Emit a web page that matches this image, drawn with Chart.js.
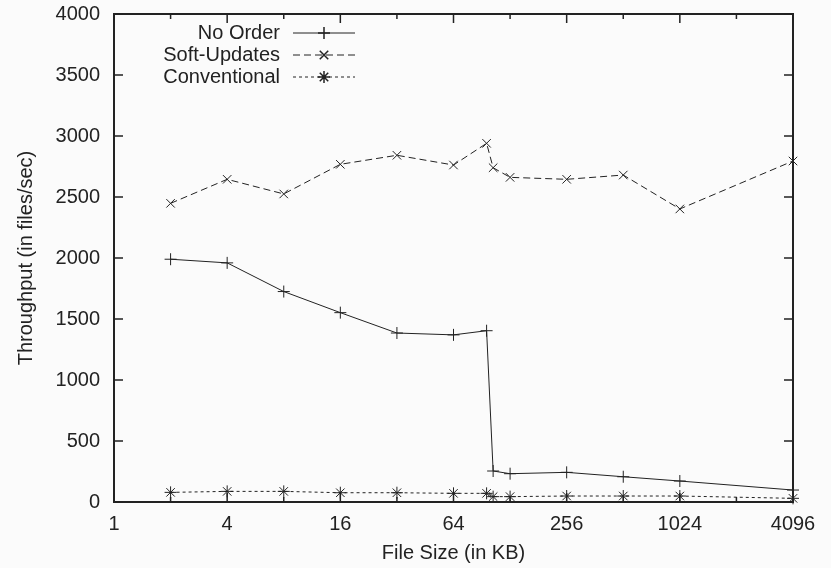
<!DOCTYPE html>
<html>
<head>
<meta charset="utf-8">
<script src="https://cdn.jsdelivr.net/npm/chart.js@4/dist/chart.umd.min.js"></script>
<style>
  html, body { margin: 0; padding: 0; background: #fbfbfb; }
  #wrap { width: 831px; height: 568px; }
</style>
</head>
<body>
<div id="wrap"><canvas id="myChart" width="831" height="568"></canvas></div>
<script>
// file sizes in KB
const fileSizes = [2, 4, 8, 16, 32, 64, 96, 104, 128, 256, 512, 1024, 4096];
// throughput (files/sec)
const noOrder = [1990, 1960, 1725, 1552, 1385, 1370, 1404, 254, 232, 243, 207, 172, 98];
const softUpdates = [2448, 2645, 2525, 2768, 2842, 2762, 2940, 2740, 2661, 2645, 2680, 2402, 2795];
const conventional = [79, 87, 87, 76, 76, 71, 71, 44, 44, 49, 49, 49, 30];
const xTicks = [1, 2, 4, 8, 16, 32, 64, 128, 256, 512, 1024, 2048, 4096];
const xLabels = [1, 4, 16, 64, 256, 1024, 4096];
const yTicks = [0, 500, 1000, 1500, 2000, 2500, 3000, 3500, 4000];

const FONT = "'Liberation Sans', Arial, sans-serif";
const INK = '#222';

function pts(ys) {
    return fileSizes.map(function (x, i) { return { x: x, y: ys[i] }; });
}

// gnuplot style frame with inward ticks
const framePlugin = {
    id: 'frame',
    afterDraw: function (chart) {
        const ctx = chart.ctx;
        const a = chart.chartArea;
        const xs = chart.scales.x, ys = chart.scales.y;
        ctx.save();
        ctx.strokeStyle = INK;
        ctx.lineWidth = 2;
        ctx.strokeRect(a.left, a.top, a.right - a.left, a.bottom - a.top);
        ctx.lineWidth = 1.5;
        ctx.beginPath();
        yTicks.forEach(function (v) {
            let py = ys.getPixelForValue(v);
            ctx.moveTo(a.left, py); ctx.lineTo(a.left + 9, py);
            ctx.moveTo(a.right, py); ctx.lineTo(a.right - 9, py);
        });
        xTicks.forEach(function (v) {
            let px = xs.getPixelForValue(v);
            let len = xLabels.indexOf(v) >= 0 ? 9 : 5;
            ctx.moveTo(px, a.bottom); ctx.lineTo(px, a.bottom - len);
            ctx.moveTo(px, a.top); ctx.lineTo(px, a.top + len);
        });
        ctx.stroke();

        // legend, text right aligned, sample on the right
        ctx.font = '20px ' + FONT;
        ctx.fillStyle = INK;
        ctx.textAlign = 'right';
        ctx.textBaseline = 'middle';
        chart.data.datasets.forEach(function (ds, i) {
            let y = 33 + i * 22;
            ctx.fillText(ds.label, 280, y);
            ctx.save();
            ctx.strokeStyle = ds.borderColor;
            ctx.lineWidth = ds.borderWidth;
            ctx.setLineDash(ds.borderDash || []);
            ctx.beginPath();
            ctx.moveTo(293, y); ctx.lineTo(355, y);
            ctx.stroke();
            ctx.restore();
            Chart.helpers.drawPoint(ctx, {
                pointStyle: ds.pointStyle, radius: ds.pointRadius,
                rotation: 0, borderWidth: 1
            }, 324, y);
        });
        ctx.restore();
    }
};

const common = {
    borderColor: INK,
    pointBorderColor: INK,
    pointBackgroundColor: INK,
    borderWidth: 1,
    pointBorderWidth: 1,
    pointRadius: 6,
    tension: 0,
    fill: false,
    clip: false
};

let ctx = document.getElementById('myChart').getContext('2d');
let myChart = new Chart(ctx, {
    type: 'line',
    data: {
        datasets: [
            Object.assign({ label: 'No Order', data: pts(noOrder), pointStyle: 'cross', borderDash: [] }, common),
            Object.assign({ label: 'Soft-Updates', data: pts(softUpdates), pointStyle: 'crossRot', borderDash: [7, 4] }, common),
            Object.assign({ label: 'Conventional', data: pts(conventional), pointStyle: 'star', borderDash: [3, 3] }, common)
        ]
    },
    options: {
        responsive: false,
        animation: false,
        layout: { padding: { top: 14, right: 38, left: 0, bottom: 0 } },
        plugins: { legend: { display: false }, tooltip: { enabled: false } },
        scales: {
            x: {
                type: 'logarithmic',
                min: 1,
                max: 4096,
                grid: { display: false, drawTicks: false },
                border: { display: false },
                afterBuildTicks: function (scale) {
                    scale.ticks = xTicks.map(function (v) { return { value: v }; });
                },
                afterFit: function (scale) {
                    scale.height = 66;
                    scale.paddingLeft = 0;
                    scale.paddingRight = 0;
                },
                ticks: {
                    autoSkip: false,
                    maxRotation: 0,
                    padding: 10,
                    color: INK,
                    font: { family: FONT, size: 20 },
                    callback: function (v) { return xLabels.indexOf(v) >= 0 ? String(v) : ''; }
                },
                title: {
                    display: true,
                    text: 'File Size (in KB)',
                    color: INK,
                    font: { family: FONT, size: 20 },
                    padding: { top: 0, bottom: 3 }
                }
            },
            y: {
                min: 0,
                max: 4000,
                grid: { display: false, drawTicks: false },
                border: { display: false },
                afterFit: function (scale) {
                    scale.width = 114;
                    scale.paddingTop = 0;
                    scale.paddingBottom = 0;
                },
                ticks: {
                    stepSize: 500,
                    padding: 14,
                    color: INK,
                    font: { family: FONT, size: 20 },
                    callback: function (v) { return String(v); }
                },
                title: {
                    display: true,
                    text: 'Throughput (in files/sec)',
                    color: INK,
                    font: { family: FONT, size: 20 },
                    padding: { top: 14, bottom: 0 }
                }
            }
        }
    },
    plugins: [framePlugin]
});
</script>
</body>
</html>
